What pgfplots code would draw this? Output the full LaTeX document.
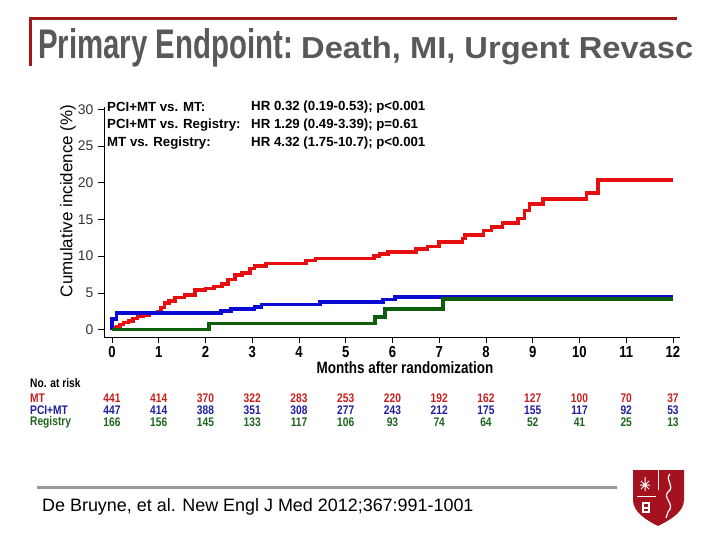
\documentclass[border=0pt]{standalone}
\usepackage{fontspec}
\setmainfont{Liberation Sans}
\newfontfamily\narrow[FakeStretch=0.82]{Liberation Sans}
\usepackage{pgfplots}
\pgfplotsset{compat=1.18}
\definecolor{titlegray}{HTML}{595959}
\definecolor{framered}{HTML}{A01818}
\definecolor{cRed}{HTML}{E60E0E}
\definecolor{cBlue}{HTML}{0A0AD2}
\definecolor{cGreen}{HTML}{0E5E0E}
\definecolor{tRed}{HTML}{C81E1E}
\definecolor{tBlue}{HTML}{1E1EA0}
\definecolor{tGreen}{HTML}{1E641E}
\definecolor{shield}{HTML}{A3121E}
\begin{document}
\begin{tikzpicture}
\path[use as bounding box] (0,0) rectangle (720bp,-540bp);
\begin{axis}[
  at={(104bp,-337bp)}, anchor=south west,
  scale only axis, width=576bp, height=230bp,
  xmin=-0.17, xmax=12.15, ymin=-1, ymax=30.3,
  axis x line*=bottom, axis y line*=left,
  axis line style={black, line width=0.9bp, -},
  xtick={0,...,12}, ytick={0,5,...,30},
  tick align=outside, major tick length=6bp,
  tick style={black, line width=0.8bp},
  /pgf/number format/assume math mode=true,
  xticklabel style={font=\narrow\bfseries\fontsize{16}{16}\selectfont, yshift=0bp},
  yticklabel style={font=\fontsize{14}{14}\selectfont, text=black!80, xshift=-1bp},
  clip=false,
]
\addplot[const plot, cRed, line width=3.6bp] coordinates {
(0,0)(0.02,0.2)(0.1,0.4)(0.17,0.7)(0.25,1.0)(0.35,1.2)(0.45,1.5)(0.55,1.8)(0.67,2.0)(0.8,2.2)(0.98,2.4)(1.05,3.0)(1.12,3.6)(1.22,3.9)(1.35,4.4)(1.55,4.7)(1.78,5.4)(2.0,5.6)(2.18,5.9)(2.35,6.2)(2.48,6.8)(2.63,7.4)(2.78,7.7)(2.95,8.3)(3.05,8.7)(3.3,9.0)(4.15,9.4)(4.35,9.7)(5.6,10.0)(5.72,10.3)(5.9,10.6)(6.5,11.0)(6.75,11.3)(7.0,11.9)(7.5,12.4)(7.55,12.9)(7.95,13.5)(8.12,14.0)(8.35,14.5)(8.68,15.1)(8.82,16.2)(8.93,17.1)(9.22,17.8)(10.15,18.6)(10.4,20.4)(12,20.4)
};
\addplot[const plot, cBlue, line width=3.6bp] coordinates {
(0,0)(0,1.45)(0.1,2.25)(2.33,2.55)(2.55,2.8)(3.05,3.05)(3.2,3.45)(4.45,3.75)(5.8,4.1)(6.05,4.45)(12,4.45)
};
\addplot[const plot, cGreen, line width=3.6bp] coordinates {
(0,0)(2.07,0.85)(5.62,1.7)(5.84,2.8)(7.08,4.15)(12,4.15)
};
\end{axis}
\begin{scope}[x=1bp,y=-1bp]
% frame
\draw[framered, line width=3bp] (30,66) -- (30,18) -- (677,18);
% title
\node[anchor=base west, inner sep=0pt, text=titlegray] at (38,58)
  {\resizebox{255bp}{30bp}{\bfseries Primary Endpoint:}};
\node[anchor=base west, inner sep=0pt, text=titlegray] at (301,58)
  {\resizebox{392bp}{22bp}{\bfseries Death, MI, Urgent Revasc}};
% y label
\node[rotate=90, inner sep=0pt, font=\fontsize{17}{17}\selectfont] at (68,201) {Cumulative incidence (\%)};
% stats
\begin{scope}[every node/.style={anchor=west, inner sep=0pt, font=\bfseries\fontsize{13.3}{13.3}\selectfont}]
\node at (107,107) {PCI+MT vs. MT:};
\node at (107,125) {PCI+MT vs. Registry:};
\node at (107,143) {MT vs. Registry:};
\node at (251,107) {HR 0.32 (0.19-0.53); p<0.001};
\node at (251,125) {HR 1.29 (0.49-3.39); p=0.61};
\node at (251,143) {HR 4.32 (1.75-10.7); p<0.001};
\end{scope}
% x label
\node[inner sep=0pt, font=\narrow\bfseries\fontsize{16.5}{16.5}\selectfont] at (405,368) {Months after randomization};
% at risk
\node[anchor=west, inner sep=0pt, font=\narrow\bfseries\fontsize{12.5}{12.5}\selectfont] at (30,383) {No. at risk};
\begin{scope}[every node/.style={anchor=west, inner sep=0pt, font=\narrow\bfseries\fontsize{12.5}{12.5}\selectfont}]
\node[text=tRed] at (30,398) {MT};
\node[text=tBlue] at (30,410) {PCI+MT};
\node[text=tGreen] at (30,422) {Registry};
\end{scope}
\begin{scope}[every node/.style={inner sep=0pt, font=\narrow\bfseries\fontsize{12.5}{12.5}\selectfont}]
\foreach \v [count=\i from 0] in {441,414,370,322,283,253,220,192,162,127,100,70,37}
  \node[text=tRed] at (112+\i*46.75,398) {\v};
\foreach \v [count=\i from 0] in {447,414,388,351,308,277,243,212,175,155,117,92,53}
  \node[text=tBlue] at (112+\i*46.75,410) {\v};
\foreach \v [count=\i from 0] in {166,156,145,133,117,106,93,74,64,52,41,25,13}
  \node[text=tGreen] at (112+\i*46.75,422) {\v};
\end{scope}
% footer
\draw[black!40, line width=3bp] (37,487) -- (617,487);
\node[anchor=west, inner sep=0pt, font=\fontsize{18}{18}\selectfont] at (42,507) {De Bruyne, et al. New Engl J Med 2012;367:991-1001};
% shield
\fill[shield] (633,470) -- (684,470) -- (684,500) .. controls (684,512) and (670,520) .. (658,526) .. controls (646,520) and (633,512) .. (633,500) -- cycle;
\draw[white, line width=0.8bp] (637,496) -- (656,496);
\draw[white, line width=0.8bp] (658,470) -- (658,490);
\fill[white] (642,502) rectangle (650,513);
\fill[shield] (644,504) rectangle (648,507);
\fill[shield] (644,509) rectangle (648,511);
\draw[white, line width=1bp] (645,477) -- (645,491) (640,485) -- (650,485) (641,481) -- (649,489) (649,481) -- (641,489);
\draw[white, line width=1.2bp] (670,474) .. controls (664,480) and (676,486) .. (668,492) .. controls (662,498) and (676,504) .. (668,512) -- (666,518);
\end{scope}
\end{tikzpicture}
\end{document}
